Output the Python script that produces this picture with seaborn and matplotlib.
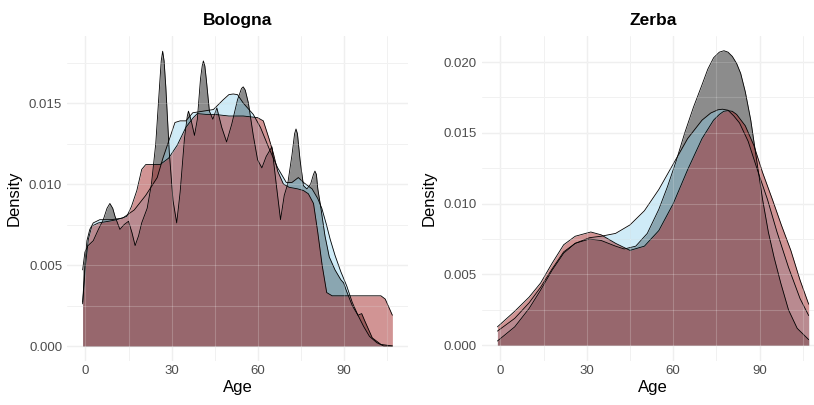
import matplotlib
matplotlib.use("Agg")
import matplotlib.pyplot as plt
from matplotlib.ticker import MultipleLocator, FormatStrFormatter
import seaborn as sns

# Bologna: density curves (age, density)
bol_grey_age = [-1, -0.2, 0.9, 2.7, 4.5, 6.2, 7.5, 8.5, 9.5, 10.3, 12, 13.5, 15, 16.2, 17.3,
                18.5, 19.6, 21.5, 23, 24.5, 25.8, 26.4, 26.9, 27.4, 28, 29.2, 30.5, 31.8, 33,
                34.5, 35.5, 35.9, 36.4, 37, 38, 39, 40.1, 40.7, 41.1, 41.6, 42.1, 43.2, 44.4,
                45.8, 47.5, 49.2, 51, 53, 54.4, 55, 55.7, 56.8, 58.5, 60, 61.5, 63, 65, 66.5,
                68, 69.3, 70.5, 72, 72.9, 73.4, 73.9, 74.8, 76, 77.2, 78.5, 79.5, 80, 80.5, 81,
                82, 83.5, 85, 87, 89, 90, 91, 93, 95, 96.3, 97.5, 100, 103, 107]
bol_grey = [0.0047, 0.0058, 0.0062, 0.0065, 0.0072, 0.0078, 0.0085, 0.0088, 0.0085, 0.0080,
            0.0072, 0.0075, 0.0077, 0.0070, 0.0062, 0.0068, 0.0076, 0.0085, 0.0100, 0.0125,
            0.0160, 0.0176, 0.0182, 0.0176, 0.0160, 0.0120, 0.0090, 0.0076, 0.0095, 0.0128,
            0.0142, 0.0145, 0.0142, 0.0138, 0.0130, 0.0140, 0.0165, 0.0173, 0.0176, 0.0173,
            0.0165, 0.0145, 0.0140, 0.0147, 0.0135, 0.0126, 0.0137, 0.0152, 0.0159, 0.0160,
            0.0158, 0.0150, 0.0130, 0.0115, 0.0110, 0.0117, 0.0123, 0.0100, 0.0078, 0.0093,
            0.0100, 0.0118, 0.0131, 0.0134, 0.0131, 0.0115, 0.0099, 0.0097, 0.0100, 0.0106,
            0.0108, 0.0106, 0.0097, 0.0086, 0.0068, 0.0055, 0.0047, 0.0041, 0.0039, 0.0034,
            0.0025, 0.0019, 0.0020, 0.0015, 0.0005, 0.0001, 0.0]

bol_blue_age = [-1, 0, 0.5, 1.5, 2.7, 5, 9, 13, 17, 21, 25, 27, 29.5, 31.2, 33, 35, 37.4, 41,
                44.6, 48, 50, 51.5, 53, 55, 58.5, 61, 64, 67, 70, 72, 74.2, 76, 79, 81, 82.4,
                84, 85.3, 87, 89, 91.1, 93, 95, 97, 99, 101.6, 104, 107]
bol_blue = [0.0027, 0.0055, 0.0065, 0.0072, 0.0076, 0.0078, 0.0078, 0.0079, 0.0084, 0.0093,
            0.0104, 0.0116, 0.0129, 0.0138, 0.0139, 0.0139, 0.0144, 0.0145, 0.0146, 0.0152,
            0.01552, 0.01556, 0.01552, 0.0150, 0.0143, 0.0135, 0.0122, 0.0110, 0.0101, 0.0101,
            0.0104, 0.0101, 0.0097, 0.0091, 0.0085, 0.0075, 0.0066, 0.0056, 0.0046, 0.0037,
            0.0027, 0.0019, 0.0012, 0.0006, 0.0002, 0.0, 0.0]

bol_red_age = [-1, 0, 1, 2.2, 4.5, 8, 11, 14.4, 16, 17.9, 19.6, 21, 24, 26, 29, 32, 35, 37.6,
               39, 42, 45, 50, 55, 60, 62, 64, 65.5, 67, 69, 71, 74, 76, 77.7, 79.5, 81, 82.5,
               84.1, 86, 90, 95, 100, 103, 104.5, 106, 107]
bol_red = [0.0026, 0.0050, 0.0066, 0.0074, 0.0076, 0.0077, 0.0078, 0.0080, 0.0086, 0.0096,
           0.0109, 0.0112, 0.0112, 0.0112, 0.0116, 0.0124, 0.0135, 0.0141, 0.01435, 0.0143,
           0.0143, 0.0142, 0.0142, 0.0141, 0.0139, 0.0128, 0.0119, 0.0108, 0.0100, 0.0098,
           0.0097, 0.0096, 0.0094, 0.0088, 0.0070, 0.0050, 0.0033, 0.0031, 0.0031, 0.0031,
           0.0031, 0.0031, 0.0029, 0.0023, 0.0019]

# Zerba
zer_grey_age = [-1, 5, 10, 14, 18, 22, 26, 31, 35, 40, 43, 47, 51, 55, 58, 61, 64, 67, 70, 72,
                74, 76, 77.6, 79, 80.5, 82, 83.4, 85, 86.9, 89, 91, 93, 95, 97.3, 100, 103, 107]
zer_grey = [0.0003, 0.0013, 0.0026, 0.0039, 0.0053, 0.0065, 0.0072, 0.0075, 0.0074, 0.0070,
            0.0068, 0.0070, 0.0079, 0.0096, 0.0112, 0.0130, 0.0150, 0.0168, 0.0184, 0.0195,
            0.0203, 0.0207, 0.0208, 0.0207, 0.0204, 0.0199, 0.0192, 0.0179, 0.0159, 0.0130,
            0.0103, 0.0080, 0.0062, 0.0044, 0.0025, 0.0012, 0.0004]

zer_blue_age = [-1, 5, 10, 14, 18, 22, 26, 31, 35, 40, 45, 50, 55, 60, 65, 70, 73, 75.5, 77.1,
                79, 81, 83, 86, 89.5, 92.7, 96, 100, 104, 107]
zer_blue = [0.0010, 0.0019, 0.0030, 0.0041, 0.0054, 0.0066, 0.0072, 0.0076, 0.0077, 0.0079,
            0.0085, 0.0095, 0.0110, 0.0128, 0.0146, 0.0159, 0.0164, 0.01663, 0.01667, 0.0166,
            0.0162, 0.0157, 0.0144, 0.0122, 0.0103, 0.0080, 0.0055, 0.0033, 0.0021]

zer_red_age = [-1, 5, 10, 14, 18, 22, 26, 31.4, 35, 40, 45, 50, 55, 60, 65, 70, 74, 76, 77.5,
               79, 80.5, 82, 85, 88, 91, 94.4, 97.5, 100.8, 104, 107]
zer_red = [0.0013, 0.0024, 0.0034, 0.0044, 0.0058, 0.0071, 0.0077, 0.0080, 0.0078, 0.0072,
           0.0067, 0.0070, 0.0081, 0.0100, 0.0124, 0.0146, 0.0159, 0.0163, 0.01652, 0.01657,
           0.01652, 0.0163, 0.0155, 0.0141, 0.0122, 0.0103, 0.0085, 0.0067, 0.0046, 0.0029]

fills = [("black", 0.45), ("skyblue", 0.4), ("brown", 0.5)]

sns.set_theme(style="white")
plt.rcParams["font.family"] = ["Liberation Sans", "DejaVu Sans"]


def draw_panel(ax, title, curves, ylim):
    for (age, dens), (col, a) in zip(curves, fills):
        ax.fill_between(age, dens, color=col, alpha=a, lw=0, zorder=2)
        sns.lineplot(x=age, y=dens, color="black", lw=0.6, ax=ax, zorder=3, sort=False)

    ax.set_xlim(-6.45, 112.45)
    ax.set_ylim(*ylim)
    ax.xaxis.set_major_locator(MultipleLocator(30))
    ax.xaxis.set_minor_locator(MultipleLocator(15))
    ax.yaxis.set_major_locator(MultipleLocator(0.005))
    ax.yaxis.set_minor_locator(MultipleLocator(0.0025))
    ax.yaxis.set_major_formatter(FormatStrFormatter("%.3f"))

    ax.set_axisbelow(True)
    ax.grid(which="major", color="#ebebeb", lw=1.0)
    ax.grid(which="minor", color="#ebebeb", lw=0.6)
    # grid shows through the translucent fills
    for t in ax.get_xticks(minor=False).tolist() + ax.get_xticks(minor=True).tolist():
        ax.axvline(t, color="white", alpha=0.22, lw=0.8, zorder=4)
    for t in ax.get_yticks(minor=False).tolist() + ax.get_yticks(minor=True).tolist():
        ax.axhline(t, color="white", alpha=0.22, lw=0.8, zorder=4)

    for s in ax.spines.values():
        s.set_visible(False)
    ax.tick_params(which="both", length=0, labelsize=9.5, labelcolor="#4d4d4d")
    ax.tick_params(axis="x", pad=3)
    ax.tick_params(axis="y", pad=3.5)
    ax.set_title(title, fontsize=12.5, fontweight="bold", color="black", pad=8)
    ax.set_xlabel("Age", fontsize=12, color="black", labelpad=2)
    ax.set_ylabel("Density", fontsize=12, color="black", labelpad=5)


fig = plt.figure(figsize=(8.14, 4.05), dpi=100)
ax1 = fig.add_axes([67 / 814, 44 / 405, 341 / 814, 325 / 405])
ax2 = fig.add_axes([481.7 / 814, 44 / 405, 342.7 / 814, 325 / 405])

draw_panel(ax1, "Bologna",
           [(bol_grey_age, bol_grey), (bol_blue_age, bol_blue), (bol_red_age, bol_red)],
           (-0.000926, 0.01914))
draw_panel(ax2, "Zerba",
           [(zer_grey_age, zer_grey), (zer_blue_age, zer_blue), (zer_red_age, zer_red)],
           (-0.00111, 0.02184))

fig.savefig("out.png", dpi=100)
